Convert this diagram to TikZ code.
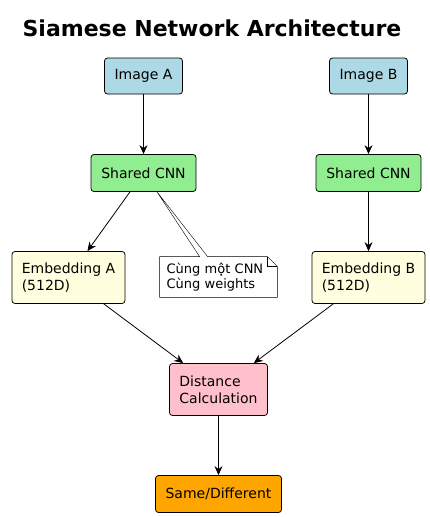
\documentclass[tikz,border=0pt]{standalone}
\usepackage{fontspec}
\setmainfont{DejaVu Sans}
\usetikzlibrary{
        arrows.meta,
        backgrounds,
        positioning
    }
\definecolor{imgblue}{HTML}{ADD8E6}
\definecolor{cnngreen}{HTML}{90EE90}
\definecolor{embyellow}{HTML}{FFFFE0}
\definecolor{distpink}{HTML}{FFC0CB}
\definecolor{outorange}{HTML}{FFA500}
\tikzset{>={Stealth[length=9pt,width=8pt,inset=3pt]},auto}

\begin{document}
\begin{tikzpicture}[x=1pt,y=-1pt,line width=0.8pt,
        font=\fontsize{14}{17}\selectfont]
                \tikzset{blockbox/.style={draw,rounded corners=3pt,inner sep=0pt,align=left}}
                \useasboundingbox (0,0) rectangle (430,517);
                \node[font=\bfseries\fontsize{22}{26}\selectfont] (title) at (212,28) {Siamese Network Architecture};
                \node[blockbox,fill=imgblue,minimum width=78pt,minimum height=36pt] (imgA) at (143.5,76) {Image A};
                \node[blockbox,fill=imgblue,minimum width=78pt,minimum height=36pt] (imgB) at (368.5,76) {Image B};
                \node[blockbox,fill=cnngreen,minimum width=105pt,minimum height=37pt] (cnnA) at (143.5,173) {Shared CNN};
                \node[blockbox,fill=cnngreen,minimum width=105pt,minimum height=37pt] (cnnB) at (368.5,173) {Shared CNN};
                \node[blockbox,fill=embyellow,minimum width=113pt,minimum height=52pt] (embA) at (68.5,277.5) {Embedding A\\(512D)};
                \node[blockbox,fill=embyellow,minimum width=113pt,minimum height=52pt] (embB) at (368.5,277.5) {Embedding B\\(512D)};
                \node[blockbox,fill=distpink,minimum width=98pt,minimum height=52pt] (dist) at (218.5,389.5) {Distance\\Calculation};
                \node[blockbox,fill=outorange,minimum width=126pt,minimum height=37pt] (same) at (218.5,494) {Same/Different};
                % note about the shared weights
                \node[text width=104pt,inner xsep=6.5pt,inner ysep=0pt,minimum height=40pt,align=left,
                    font=\fontsize{13}{15}\selectfont] (note) at (218.5,277) {Cùng một CNN\\Cùng weights};
                \coordinate (tip) at ([xshift=13.5pt]cnnA.south);
                \begin{scope}[on background layer]
                    \draw[fill=white] (note.north west) -- ([xshift=40pt]note.north west) -- (tip)
                        -- ([xshift=48pt]note.north west) -- ([xshift=-10pt]note.north east)
                        -- ([yshift=-10pt]note.north east) -- (note.south east) -- (note.south west) -- cycle;
                \end{scope}
                \draw ([xshift=-10pt]note.north east) |- ([yshift=-10pt]note.north east);
                \path[->]
                    (imgA)  edge  (cnnA)
                    (imgB)  edge  (cnnB)
                    (cnnA)  edge  (embA)
                    (cnnB)  edge  (embB)
                    (embA)  edge  (dist)
                    (embB)  edge  (dist)
                    (dist)  edge  (same)
                ;
            \end{tikzpicture}
\end{document}
